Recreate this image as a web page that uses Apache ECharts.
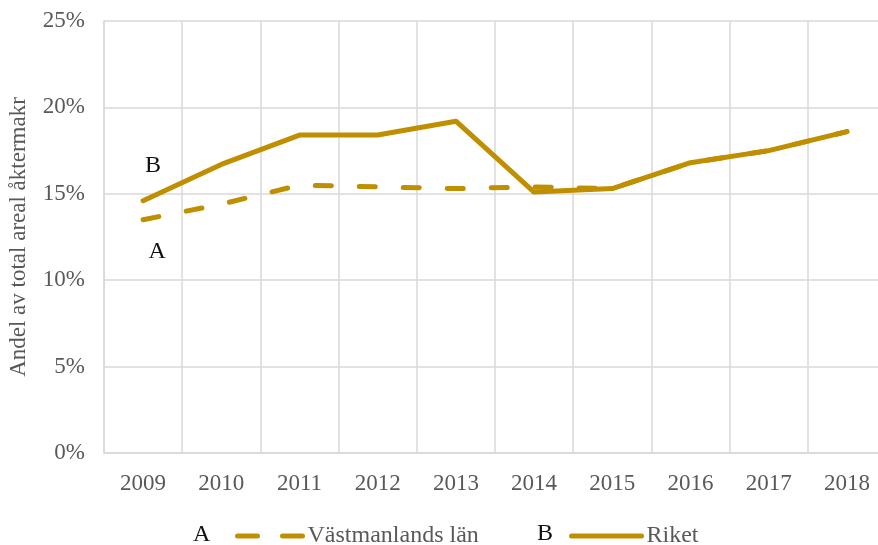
<!DOCTYPE html>
<html>
<head>
<meta charset="utf-8">
<script src="https://cdn.jsdelivr.net/npm/echarts@6/dist/echarts.min.js"></script>
<style>
  html, body { margin: 0; padding: 0; background: #fff; }
  #chart { width: 878px; height: 545px; }
</style>
</head>
<body>
<div id="chart"></div>
<script>
const years = ['2009', '2010', '2011', '2012', '2013', '2014', '2015', '2016', '2017', '2018'];
const vastmanland = [13.5, 14.4, 15.5, 15.4, 15.3, 15.4, 15.3, 16.8, 17.5, 18.6];
const riket = [14.6, 16.7, 18.4, 18.4, 19.2, 15.1, 15.3, 16.8, 17.5, 18.6];
const yTicks = [0, 5, 10, 15, 20, 25];

const gold = '#bf8f00';
const grey = '#595959';
const serif = '"Liberation Serif", "DejaVu Serif", serif';
const gridLine = {color: '#d9d9d9', width: 1.5};

// first point carries the A / B marker
const withMarker = (arr, letter, offset) => arr.map((v, i) => i === 0 ? {
  value: v,
  symbol: 'circle', symbolSize: 1,
  label: {
    show: true, formatter: letter, position: 'inside', offset: offset,
    color: '#111', fontFamily: serif, fontSize: 24
  }
} : v);

const legendBase = {
  top: 519, itemHeight: 10,
  itemStyle: {opacity: 0},
  textStyle: {color: grey, fontFamily: serif, fontSize: 24}
};

const chart = echarts.init(document.getElementById('chart'));
chart.setOption({
  animation: false,
  // plot runs slightly past the right edge, like the cropped original
  grid: {left: 104, width: 782, top: 21, bottom: 92, outerBoundsMode: 'none', containLabel: false},
  legend: [
    Object.assign({}, legendBase, {
      left: 230, itemWidth: 65, data: ['Västmanlands län'],
      lineStyle: {width: 5, type: [20, 25], cap: 'round'}
    }),
    Object.assign({}, legendBase, {
      left: 564, itemWidth: 70, data: ['Riket'],
      lineStyle: {width: 5, cap: 'round'}
    })
  ],
  graphic: [
    {type: 'text', left: 193, top: 523, style: {text: 'A', fill: '#111', font: '24px ' + serif}},
    {type: 'text', left: 537, top: 522, style: {text: 'B', fill: '#111', font: '24px ' + serif}}
  ],
  xAxis: {
    type: 'category',
    data: years,
    boundaryGap: true,
    axisLine: {lineStyle: gridLine},
    axisTick: {show: false},
    axisLabel: {color: grey, fontFamily: serif, fontSize: 23, margin: 19},
    splitLine: {show: true, lineStyle: gridLine}
  },
  yAxis: {
    type: 'value',
    min: yTicks[0], max: yTicks[yTicks.length - 1], interval: 5,
    name: 'Andel av total areal åktermakr',
    nameLocation: 'middle', nameGap: 74,
    nameTextStyle: {color: grey, fontFamily: serif, fontSize: 23},
    axisLine: {show: true, lineStyle: gridLine},
    axisTick: {show: false},
    axisLabel: {color: grey, fontFamily: serif, fontSize: 23, margin: 19, formatter: '{value}%'},
    splitLine: {show: true, lineStyle: gridLine}
  },
  series: [
    {
      name: 'Västmanlands län',
      type: 'line',
      data: withMarker(vastmanland, 'A', [14, 32]),
      symbol: 'none',
      lineStyle: {color: gold, width: 5, type: [16, 28], cap: 'round'},
      itemStyle: {color: gold}
    },
    {
      name: 'Riket',
      type: 'line',
      data: withMarker(riket, 'B', [10, -35]),
      symbol: 'none',
      lineStyle: {color: gold, width: 5, cap: 'round', join: 'round'},
      itemStyle: {color: gold}
    }
  ]
});
</script>
</body>
</html>
